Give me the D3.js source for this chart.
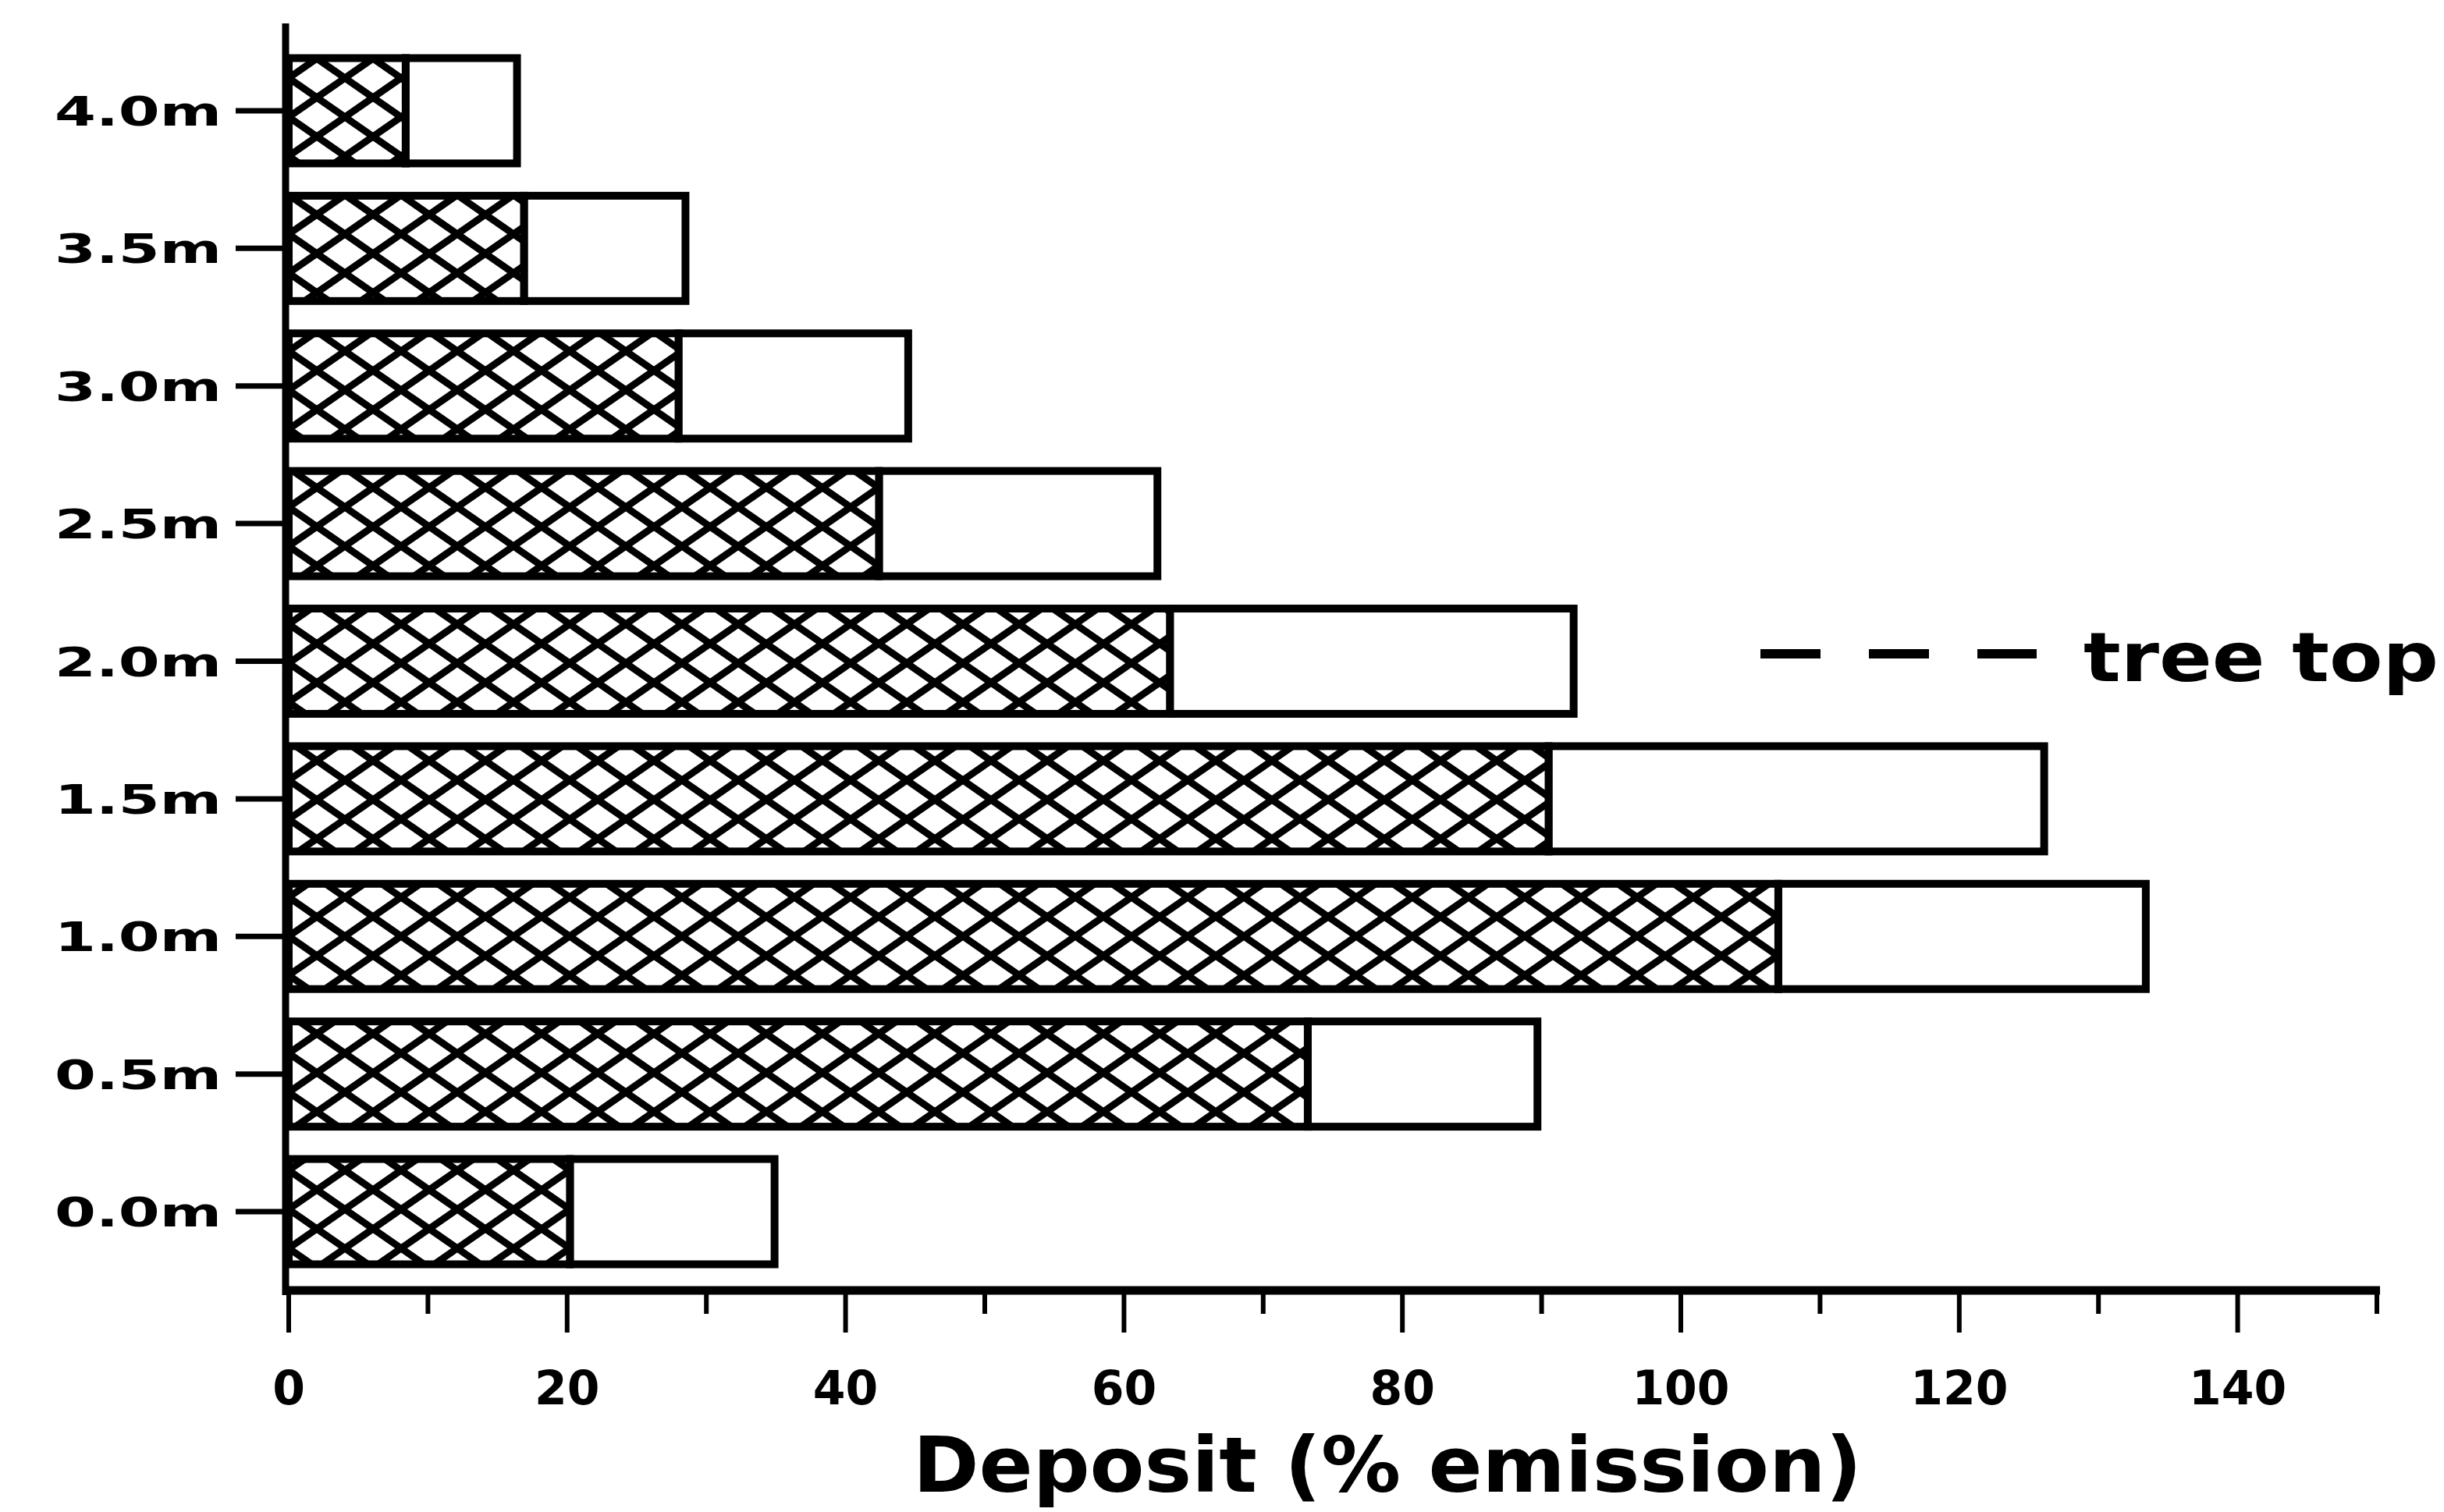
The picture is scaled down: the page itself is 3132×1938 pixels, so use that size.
<!DOCTYPE html>
<html>
<head>
<meta charset="utf-8">
<script src="https://cdn.jsdelivr.net/npm/d3@7/dist/d3.min.js"></script>
<style>
  html, body { margin: 0; padding: 0; background: #fff; }
  svg { display: block; }
  text { font-family: "DejaVu Sans", sans-serif; font-weight: bold; fill: #000; }
</style>
</head>
<body>
<svg id="chart" width="3132" height="1938"></svg>
<script>
// Heights above ground and deposits (% of emission)
const categories = ["4.0m", "3.5m", "3.0m", "2.5m", "2.0m", "1.5m", "1.0m", "0.5m", "0.0m"];
const hatchedValues = [8.4, 16.9, 28.0, 42.4, 63.3, 90.5, 107.0, 73.2, 20.2];
const totalValues = [16.4, 28.5, 44.5, 62.4, 92.3, 126.1, 133.4, 89.7, 34.9];
const xMajorTicks = [0, 20, 40, 60, 80, 100, 120, 140];
const xMinorTicks = [10, 30, 50, 70, 90, 110, 130, 150];
const xTitle = "Deposit (% emission)";
const legendLabel = "tree top";

const svg = d3.select("#chart");
const W = 3132, H = 1938;
svg.append("rect").attr("width", W).attr("height", H).attr("fill", "#fff");

const x = d3.scaleLinear().domain([0, 150]).range([370, 3046]);
const y = d3.scaleBand().domain(categories).range([74.5, 1620.5]).paddingInner(0.235);
const axisY = 1654;

// cross-hatch pattern: two families of diagonal lines forming diamonds
const pw = 72, ph = 50;
const defs = svg.append("defs");
const pat = defs.append("pattern")
  .attr("id", "hatch")
  .attr("patternUnits", "userSpaceOnUse")
  .attr("width", pw).attr("height", ph)
  .attr("x", x(0)).attr("y", 0);
pat.append("rect").attr("width", pw).attr("height", ph).attr("fill", "#fff");
[-ph, 0, ph].forEach(off => {
  pat.append("line").attr("x1", 0).attr("y1", off).attr("x2", pw).attr("y2", off + ph)
    .attr("stroke", "#000").attr("stroke-width", 9);
  pat.append("line").attr("x1", 0).attr("y1", off + ph).attr("x2", pw).attr("y2", off)
    .attr("stroke", "#000").attr("stroke-width", 9);
});

const rows = categories.map((c, i) => ({ cat: c, hatched: hatchedValues[i], total: totalValues[i] }));

const bars = svg.append("g");
// open (white) part of each bar
bars.selectAll("rect.open").data(rows).join("rect")
  .attr("class", "open")
  .attr("x", d => x(d.hatched))
  .attr("y", d => y(d.cat))
  .attr("width", d => x(d.total) - x(d.hatched))
  .attr("height", y.bandwidth())
  .attr("fill", "#fff")
  .attr("stroke", "#000")
  .attr("stroke-width", 10);
// cross-hatched part of each bar
bars.selectAll("rect.hatched").data(rows).join("rect")
  .attr("class", "hatched")
  .attr("x", x(0))
  .attr("y", d => y(d.cat))
  .attr("width", d => x(d.hatched) - x(0))
  .attr("height", y.bandwidth())
  .attr("fill", "url(#hatch)")
  .attr("stroke", "#000")
  .attr("stroke-width", 10);

// y axis
const yAxisX = x(0) - 4;
svg.append("line")
  .attr("x1", yAxisX).attr("x2", yAxisX)
  .attr("y1", 30).attr("y2", axisY + 6)
  .attr("stroke", "#000").attr("stroke-width", 9);
const yAxis = d3.axisLeft(y).tickSize(64).tickPadding(18);
const gy = svg.append("g").attr("transform", `translate(${yAxisX},0)`).call(yAxis);
gy.select(".domain").remove();
gy.selectAll(".tick line").attr("stroke", "#000").attr("stroke-width", 7);
gy.selectAll(".tick text")
  .attr("font-size", 52)
  .attr("dy", null)
  .attr("y", 19)
  .attr("textLength", 214)
  .attr("lengthAdjust", "spacingAndGlyphs")
  .style("font-family", "'DejaVu Sans', sans-serif")
  .style("font-weight", "bold");

// x axis
svg.append("line")
  .attr("x1", yAxisX - 4).attr("x2", x(150) + 4)
  .attr("y1", axisY).attr("y2", axisY)
  .attr("stroke", "#000").attr("stroke-width", 11);
const gx = svg.append("g");
gx.selectAll("line.major").data(xMajorTicks).join("line")
  .attr("x1", d => x(d)).attr("x2", d => x(d))
  .attr("y1", axisY).attr("y2", axisY + 54)
  .attr("stroke", "#000").attr("stroke-width", 6);
gx.selectAll("line.minor").data(xMinorTicks).join("line")
  .attr("x1", d => x(d)).attr("x2", d => x(d))
  .attr("y1", axisY).attr("y2", axisY + 30)
  .attr("stroke", "#000").attr("stroke-width", 6);
gx.selectAll("text").data(xMajorTicks).join("text")
  .attr("x", d => x(d))
  .attr("y", 1800)
  .attr("text-anchor", "middle")
  .attr("font-size", 60)
  .text(d => d);

// axis title
svg.append("text")
  .attr("x", 1778).attr("y", 1912)
  .attr("text-anchor", "middle")
  .attr("font-size", 98)
  .attr("textLength", 1216)
  .attr("lengthAdjust", "spacingAndGlyphs")
  .text(xTitle);

// legend
svg.append("line")
  .attr("x1", 2256).attr("x2", 2610)
  .attr("y1", 838).attr("y2", 838)
  .attr("stroke", "#000").attr("stroke-width", 12)
  .attr("stroke-dasharray", "77,62");
svg.append("text")
  .attr("x", 2670).attr("y", 873)
  .attr("font-size", 88)
  .attr("textLength", 455)
  .attr("lengthAdjust", "spacingAndGlyphs")
  .text(legendLabel);
</script>
</body>
</html>
